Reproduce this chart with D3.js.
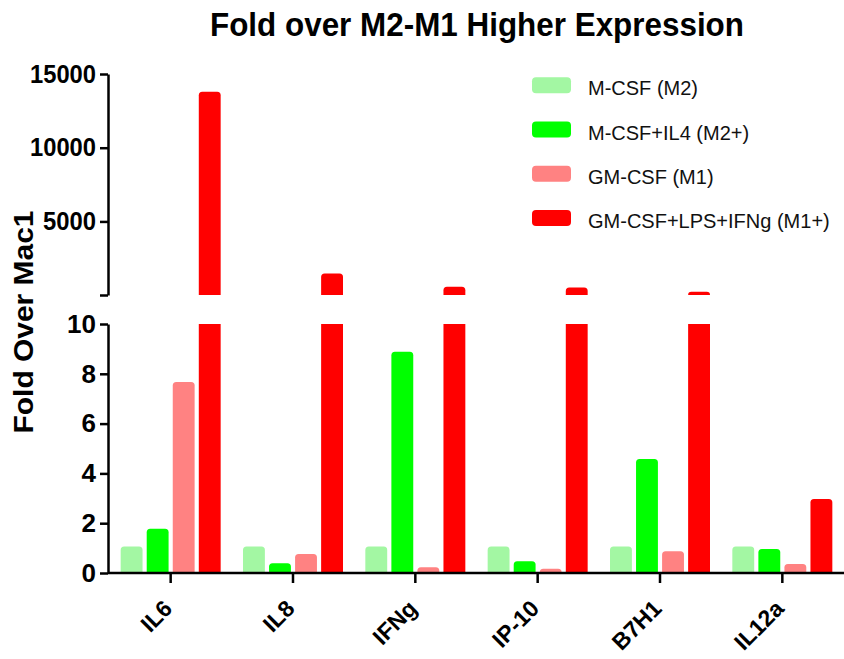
<!DOCTYPE html>
<html>
<head>
<meta charset="utf-8">
<script src="https://cdn.jsdelivr.net/npm/d3@7"></script>
<style>
body { margin: 0; background: #fff; }
text { font-family: "Liberation Sans", Arial, sans-serif; }
</style>
</head>
<body>
<script>
let width = 844
let height = 659

// data
let genes = ["IL6", "IL8", "IFNg", "IP-10", "B7H1", "IL12a"]
let seriesNames = ["M-CSF (M2)", "M-CSF+IL4 (M2+)", "GM-CSF (M1)", "GM-CSF+LPS+IFNg (M1+)"]
let mcsf = [1.06, 1.06, 1.06, 1.06, 1.06, 1.06]
let mcsfIl4 = [1.78, 0.39, 8.89, 0.47, 4.58, 0.96]
let gmcsf = [7.67, 0.76, 0.23, 0.17, 0.87, 0.36]
let gmcsfLps = [13800, 1470, 565, 520, 230, 2.97]
let lowTicks = [0, 2, 4, 6, 8, 10]
let highTicks = [10, 5000, 10000, 15000]
let colors = ["#a3f7a3", "#00ff00", "#ff8282", "#ff0000"]

let allSeries = [mcsf, mcsfIl4, gmcsf, gmcsfLps]

let svg = d3.select("body").append("svg")
	.attr("width", width)
	.attr("height", height)

let x = d3.scaleBand().domain(genes).range([109.5, 843.5])
let xInner = d3.scaleBand().domain(d3.range(4)).range([-50, 50]).paddingInner(0.16)
let yLow = d3.scaleLinear().domain([0, 10]).range([573, 324])
let yHigh = d3.scaleLinear().domain([10, 15000]).range([295, 74])

// rect with rounded top corners (or flat)
let barPath = (x0, w, yTop, yBottom, r) => {
	if (r <= 0) return `M${x0},${yBottom}V${yTop}H${x0 + w}V${yBottom}Z`
	r = Math.min(r, (yBottom - yTop))
	return `M${x0},${yBottom}V${yTop + r}Q${x0},${yTop} ${x0 + r},${yTop}` +
		`H${x0 + w - r}Q${x0 + w},${yTop} ${x0 + w},${yTop + r}V${yBottom}Z`
}

let bars = []
allSeries.forEach((vals, s) => {
	vals.forEach((v, i) => bars.push({ gene: genes[i], s: s, v: v }))
})

let bw = xInner.bandwidth()
let gBars = svg.append("g")
bars.forEach(d => {
	let x0 = x(d.gene) + x.bandwidth() / 2 + xInner(d.s)
	if (d.v <= 10) {
		gBars.append("path")
			.attr("d", barPath(x0, bw, yLow(d.v), yLow(0), 3.5))
			.attr("fill", colors[d.s])
	} else {
		// broken bar: full lower piece + upper piece
		gBars.append("path")
			.attr("d", barPath(x0, bw, yLow(10), yLow(0), 0))
			.attr("fill", colors[d.s])
		gBars.append("path")
			.attr("d", barPath(x0, bw, yHigh(d.v), yHigh(10), 3.5))
			.attr("fill", colors[d.s])
	}
})

let styleAxis = g => {
	g.selectAll("path, line").attr("stroke", "#000").attr("stroke-width", 2.5)
	g.selectAll("text")
		.attr("font-family", "Liberation Sans, Arial, sans-serif")
		.attr("font-weight", "bold")
		.attr("fill", "#000")
}

// lower y axis
let axLow = svg.append("g")
	.attr("transform", "translate(108,0)")
	.call(d3.axisLeft(yLow).tickValues(lowTicks).tickSize(8).tickSizeOuter(0).tickPadding(4))
axLow.call(styleAxis)
axLow.selectAll("text").attr("font-size", 26)

// upper y axis
let axHigh = svg.append("g")
	.attr("transform", "translate(108,0)")
	.call(d3.axisLeft(yHigh).tickValues(highTicks).tickSize(8).tickSizeOuter(0).tickPadding(4)
		.tickFormat(d => d === 10 ? "" : d))
axHigh.call(styleAxis)
axHigh.selectAll("text").attr("font-size", 25).attr("textLength", 66).attr("lengthAdjust", "spacingAndGlyphs")
axHigh.selectAll("text").filter(d => d === 5000).attr("textLength", 53)

// x axis
let axX = svg.append("g")
	.attr("transform", "translate(0,573)")
	.call(d3.axisBottom(x).tickSize(10).tickSizeOuter(0).tickFormat(""))
axX.select(".domain").attr("d", "M108,0H844")
axX.call(styleAxis)

svg.append("g").selectAll("text")
	.data(genes)
	.enter()
	.append("text")
	.text(d => d)
	.attr("font-weight", "bold")
	.attr("font-size", 23)
	.attr("text-anchor", "end")
	.attr("transform", d => `translate(${x(d) + x.bandwidth() / 2 + 3},610) rotate(-45)`)

// title
svg.append("text")
	.text("Fold over M2-M1 Higher Expression")
	.attr("x", 477)
	.attr("y", 36)
	.attr("text-anchor", "middle")
	.attr("font-weight", "bold")
	.attr("font-size", 33)
	.attr("textLength", 534)
	.attr("lengthAdjust", "spacingAndGlyphs")

// y axis title
svg.append("text")
	.text("Fold Over Mac1")
	.attr("transform", "translate(33,322) rotate(-90)")
	.attr("text-anchor", "middle")
	.attr("font-weight", "bold")
	.attr("font-size", 27)
	.attr("textLength", 223)
	.attr("lengthAdjust", "spacingAndGlyphs")

// legend
let legend = svg.append("g").selectAll("g")
	.data(seriesNames)
	.enter()
	.append("g")
	.attr("transform", (d, i) => `translate(532,${77.3 + i * 44.2})`)

legend.append("rect")
	.attr("width", 39)
	.attr("height", 16)
	.attr("rx", 4)
	.attr("fill", (d, i) => colors[i])

legend.append("text")
	.text(d => d)
	.attr("x", 56)
	.attr("y", 18)
	.attr("font-size", 20)
	.attr("fill", "#111")
</script>
</body>
</html>
